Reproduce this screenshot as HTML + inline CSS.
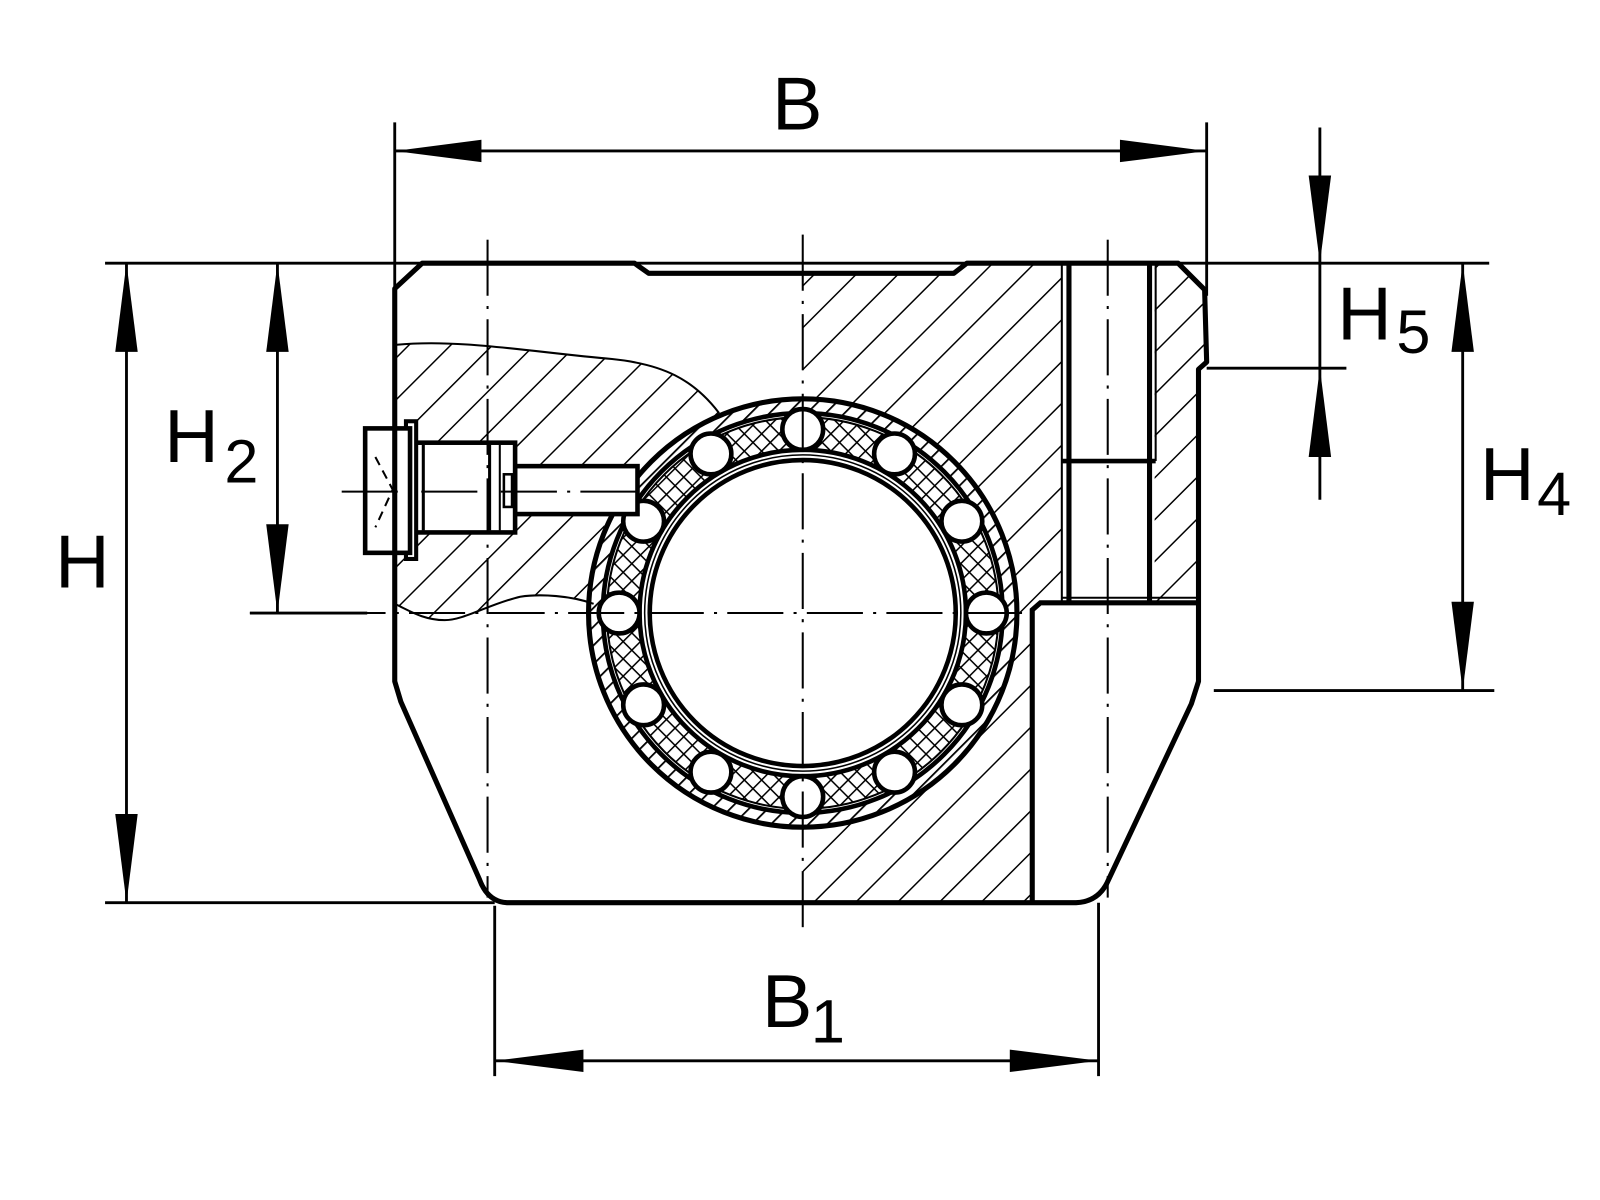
<!DOCTYPE html>
<html><head><meta charset="utf-8"><style>
html,body{margin:0;padding:0;background:#fff;}
svg{display:block;}
text{font-family:"Liberation Sans",Arial,sans-serif;fill:#000;}
</style></head><body>
<svg width="1600" height="1200" viewBox="0 0 1600 1200" xmlns="http://www.w3.org/2000/svg">
<defs>
<pattern id="hat" patternUnits="userSpaceOnUse" width="29" height="29" patternTransform="rotate(-45)">
<line x1="0" y1="0" x2="29" y2="0" stroke="#000" stroke-width="3"/>
</pattern>
<pattern id="hat2" patternUnits="userSpaceOnUse" width="13" height="13" patternTransform="rotate(-45)">
<line x1="0" y1="0" x2="13" y2="0" stroke="#000" stroke-width="3.5"/>
</pattern>
<pattern id="cross" patternUnits="userSpaceOnUse" width="12" height="12" patternTransform="rotate(45)">
<line x1="0" y1="0" x2="12" y2="0" stroke="#000" stroke-width="3"/>
<line x1="0" y1="0" x2="0" y2="12" stroke="#000" stroke-width="3"/>
</pattern>
<mask id="mRight">
<rect x="0" y="0" width="1600" height="1200" fill="#fff"/>
<circle cx="787" cy="601" r="212" fill="#000"/>
</mask>
</defs>
<rect width="1600" height="1200" fill="#fff"/>
<g transform="scale(1.02)" stroke-linecap="butt">

<polygon points="787,268 935,268 948,258 1041,258 1041,590 1012,592 1012,885 787,885" fill="url(#hat)" mask="url(#mRight)"/>
<polygon points="1132,258 1155,258 1181,284 1183,355 1175,362 1175,590 1132,590" fill="url(#hat)"/>
<path d="M389,338 C450,332 520,345 600,352 C650,357 680,372 705,405 L600,470 L580,590 C560,584 530,582 510,585 C480,592 455,608 436,608 C415,608 400,598 389,593 Z" fill="url(#hat)" mask="url(#mRight)"/>
<path d="M389,338 C450,332 520,345 600,352 C650,357 680,372 705,405" fill="none" stroke="#000" stroke-width="2"/>
<path d="M389,593 C400,598 415,608 436,608 C455,608 480,592 510,585 C530,582 560,584 582,592" fill="none" stroke="#000" stroke-width="2"/>

<path d="M787,391 a210,210 0 1,0 0.01,0 Z M787,405 a196,196 0 1,1 -0.01,0 Z" fill="url(#hat2)" fill-rule="evenodd"/>
<path d="M787,409 a192,192 0 1,0 0.01,0 Z M787,441 a160,160 0 1,1 -0.01,0 Z" fill="url(#cross)" fill-rule="evenodd"/>
<circle cx="787" cy="601" r="210" fill="none" stroke="#000" stroke-width="5"/>
<circle cx="787" cy="601" r="196" fill="none" stroke="#000" stroke-width="4.5"/>
<circle cx="787" cy="601" r="192" fill="none" stroke="#000" stroke-width="2"/>
<circle cx="787" cy="601" r="160" fill="none" stroke="#000" stroke-width="4.5"/>
<circle cx="787" cy="601" r="155" fill="none" stroke="#000" stroke-width="1.5"/>
<circle cx="787" cy="601" r="150" fill="#fff" stroke="#000" stroke-width="4.5"/>
<g fill="#fff" stroke="#000" stroke-width="4.5">
<circle cx="967" cy="601" r="20"/><circle cx="943" cy="511" r="20"/><circle cx="877" cy="445" r="20"/>
<circle cx="787" cy="421" r="20"/><circle cx="697" cy="445" r="20"/><circle cx="631" cy="511" r="20"/>
<circle cx="607" cy="601" r="20"/><circle cx="631" cy="691" r="20"/><circle cx="697" cy="757" r="20"/>
<circle cx="787" cy="781" r="20"/><circle cx="877" cy="757" r="20"/><circle cx="943" cy="691" r="20"/>
</g>

<rect x="505" y="457" width="120" height="47" fill="#fff" stroke="#000" stroke-width="4.5"/>
<rect x="402" y="434" width="103" height="88" fill="#fff" stroke="#000" stroke-width="4.5"/>
<line x1="415" y1="436" x2="415" y2="520" stroke="#000" stroke-width="3"/>
<line x1="480" y1="436" x2="480" y2="520" stroke="#000" stroke-width="3"/>
<line x1="490" y1="436" x2="490" y2="520" stroke="#000" stroke-width="2"/>
<rect x="494" y="465" width="8" height="32" fill="none" stroke="#000" stroke-width="2.5"/>
<rect x="398" y="413" width="10" height="135" fill="#fff" stroke="#000" stroke-width="4"/>
<rect x="358" y="420" width="44" height="122" fill="#fff" stroke="#000" stroke-width="4.5"/>
<path d="M368,448 L385,480 L368,517" fill="none" stroke="#000" stroke-width="2" stroke-dasharray="9,6"/>

<path d="M387,283 L414,258 L622,258 L636,268 L935,268 L948,258 L1155,258 L1181,284 L1183,355 L1175,362 L1175,668 L1168,690 L1087,862 Q1078,884 1055,885 L497,885 Q478,884 470,862 L393,688 L387,668 Z" fill="none" stroke="#000" stroke-width="5" stroke-linejoin="round"/>
<g stroke="#000" fill="none">
<line x1="1041" y1="258" x2="1041" y2="590" stroke-width="2"/>
<line x1="1048" y1="258" x2="1048" y2="590" stroke-width="5"/>
<line x1="1127" y1="258" x2="1127" y2="590" stroke-width="5"/>
<line x1="1133" y1="258" x2="1133" y2="452" stroke-width="2"/>
<line x1="1041" y1="452" x2="1133" y2="452" stroke-width="4.5"/>
<path d="M1012,885 L1012,598 L1020,591 L1175,591" stroke-width="5"/>
<line x1="1041" y1="586" x2="1175" y2="586" stroke-width="2"/>
</g>

<g stroke="#000" stroke-width="2" fill="none" stroke-dasharray="55,10,3,10">
<line x1="787" y1="230" x2="787" y2="915"/>
<line x1="245" y1="601" x2="1005" y2="601"/>
<line x1="478" y1="235" x2="478" y2="880"/>
<line x1="1086" y1="235" x2="1086" y2="880"/>
<line x1="335" y1="482" x2="630" y2="482"/>
</g>

<g stroke="#000" stroke-width="2.8" fill="none">
<line x1="387" y1="120" x2="387" y2="600"/>
<line x1="1183" y1="120" x2="1183" y2="290"/>
<line x1="387" y1="148" x2="1183" y2="148"/>
<line x1="103" y1="258" x2="1460" y2="258"/>
<line x1="103" y1="885" x2="485" y2="885"/>
<line x1="124" y1="258" x2="124" y2="885"/>
<line x1="245" y1="601" x2="360" y2="601"/>
<line x1="272" y1="258" x2="272" y2="601"/>
<line x1="1294" y1="125" x2="1294" y2="490"/>
<line x1="1183" y1="361" x2="1320" y2="361"/>
<line x1="1434" y1="258" x2="1434" y2="677"/>
<line x1="1190" y1="677" x2="1465" y2="677"/>
<line x1="485" y1="888" x2="485" y2="1055"/>
<line x1="1077" y1="885" x2="1077" y2="1055"/>
<line x1="485" y1="1040" x2="1077" y2="1040"/>
</g>
<g fill="#000">
<polygon points="387,148 472,137 472,159"/>
<polygon points="1183,148 1098,137 1098,159"/>
<polygon points="124,258 113,345 135,345"/>
<polygon points="124,885 113,798 135,798"/>
<polygon points="272,258 261,345 283,345"/>
<polygon points="272,601 261,514 283,514"/>
<polygon points="1294,258 1283,172 1305,172"/>
<polygon points="1294,361 1283,448 1305,448"/>
<polygon points="1434,258 1423,345 1445,345"/>
<polygon points="1434,677 1423,590 1445,590"/>
<polygon points="485,1040 572,1029 572,1051"/>
<polygon points="1077,1040 990,1029 990,1051"/>
</g>

<text x="757" y="127" font-size="74">B</text>
<text x="747" y="1007" font-size="74">B</text>
<text x="795" y="1022" font-size="60">1</text>
<text x="54" y="576" font-size="74">H</text>
<text x="161" y="453" font-size="74">H</text>
<text x="220" y="473" font-size="60">2</text>
<text x="1311" y="333" font-size="74">H</text>
<text x="1369" y="346" font-size="60">5</text>
<text x="1451" y="490" font-size="74">H</text>
<text x="1507" y="505" font-size="60">4</text>
</g>
</svg>
</body></html>
